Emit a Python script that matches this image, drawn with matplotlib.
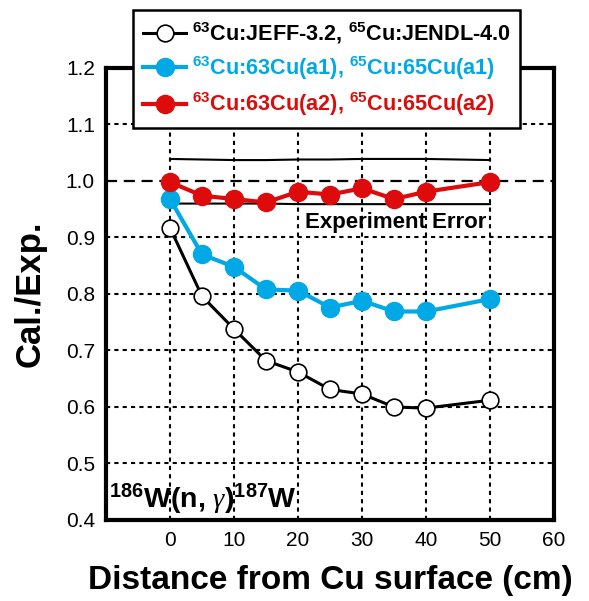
import matplotlib
matplotlib.use('Agg')
import matplotlib.pyplot as plt
from matplotlib import font_manager

plt.rcParams['font.family'] = ['Liberation Sans', 'DejaVu Sans']
plt.rcParams['mathtext.fontset'] = 'custom'
plt.rcParams['mathtext.rm'] = 'Liberation Sans:bold'
plt.rcParams['mathtext.bf'] = 'Liberation Sans:bold'
plt.rcParams['mathtext.it'] = 'Liberation Serif:italic'
plt.rcParams['mathtext.default'] = 'rm'

# data
dist = [0, 5, 10, 15, 20, 25, 30, 35, 40, 50]
jeff = [0.917, 0.796, 0.738, 0.682, 0.662, 0.631, 0.623, 0.600, 0.598, 0.612]
a1 = [0.968, 0.870, 0.848, 0.808, 0.806, 0.776, 0.788, 0.769, 0.769, 0.791]
a2 = [0.998, 0.974, 0.968, 0.962, 0.981, 0.976, 0.987, 0.968, 0.981, 0.998]
err_hi = [1.039, 1.038, 1.037, 1.037, 1.038, 1.038, 1.039, 1.039, 1.039, 1.037]
err_lo = [0.960, 0.960, 0.960, 0.960, 0.959, 0.959, 0.959, 0.959, 0.959, 0.959]

xticks = [0, 10, 20, 30, 40, 50, 60]
yticks = [0.4, 0.5, 0.6, 0.7, 0.8, 0.9, 1.0, 1.1, 1.2]

red = '#DD0B0B'
blue = '#00A9E6'

names = font_manager.get_font_names()
tickfont = 'Liberation Sans Narrow' if 'Liberation Sans Narrow' in names else 'Liberation Sans'

fig = plt.figure(figsize=(5.89, 6.01), dpi=100)
ax = fig.add_axes([0.18, 0.1348, 0.7606, 0.7521])

# grid
for x in xticks[:-1]:
    ax.axvline(x, color='k', lw=1.5, ls=(0, (2, 2)), zorder=1)
for y in yticks[1:-1]:
    if y == 1.0:
        ax.axhline(y, color='k', lw=1.6, ls=(0, (5, 3)), zorder=1)
    else:
        ax.axhline(y, color='k', lw=1.5, ls=(0, (2, 2)), zorder=1)

# experiment error band
ax.plot(dist, err_hi, color='k', lw=1.5, zorder=2)
ax.plot(dist, err_lo, color='k', lw=1.5, zorder=2)

ax.plot(dist, jeff, '-o', color='k', lw=2.2, ms=12, mfc='white', mec='k', mew=1.2,
        label=r'$^{63}$Cu:JEFF-3.2, $^{65}$Cu:JENDL-4.0', zorder=3)
ax.plot(dist, a1, '-o', color=blue, lw=3, ms=13,
        label=r'$^{63}$Cu:63Cu(a1), $^{65}$Cu:65Cu(a1)', zorder=3)
ax.plot(dist, a2, '-o', color=red, lw=3, ms=13,
        label=r'$^{63}$Cu:63Cu(a2), $^{65}$Cu:65Cu(a2)', zorder=4)

ax.text(35.3, 0.927, 'Experiment Error', ha='center', va='center',
        fontsize=16, fontweight='bold')
ax.text(-9.6, 0.405, r'$^{186}$W(n, $\mathit{\gamma}$)$^{187}$W', ha='left', va='bottom',
        fontsize=20.5, fontweight='bold')

ax.set_xlim(-10, 60)
ax.set_ylim(0.4, 1.2)
ax.set_xticks(xticks)
ax.set_yticks(yticks)
ax.set_yticklabels(['%.1f' % v for v in yticks])
ax.tick_params(length=0, labelsize=15, pad=8)
for lab in ax.get_xticklabels() + ax.get_yticklabels():
    lab.set_family(tickfont)
for s in ax.spines.values():
    s.set_linewidth(3)

ax.set_xlabel('Distance from Cu surface (cm)', fontsize=24, fontweight='bold', labelpad=11)
ax.set_ylabel('Cal./Exp.', fontsize=25, fontweight='bold', labelpad=14)

leg = ax.legend(loc='upper left', bbox_to_anchor=(0.226, 0.983), bbox_transform=fig.transFigure,
                prop={'weight': 'bold', 'size': 15.6}, labelcolor='linecolor',
                fancybox=False, framealpha=1, edgecolor='k', handlelength=2.0,
                handletextpad=0.25, borderpad=0.45, labelspacing=0.38, borderaxespad=0)
leg.get_frame().set_linewidth(1.8)
leg.set_zorder(10)

fig.savefig('out.png', dpi=100)
